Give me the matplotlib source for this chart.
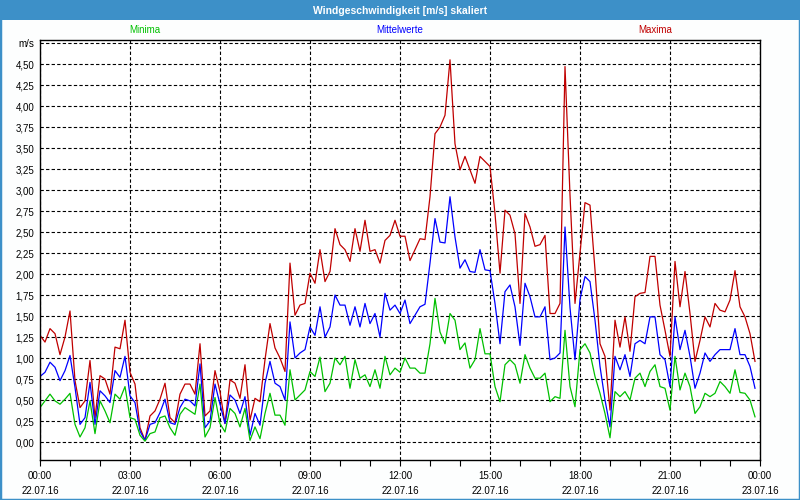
import numpy as np
import pandas as pd
import matplotlib
matplotlib.use("Agg")
import matplotlib.pyplot as plt
import matplotlib.dates as mdates
from matplotlib.patches import Rectangle
from matplotlib.ticker import FixedLocator, FixedFormatter

plt.rcParams['font.family'] = ['Liberation Sans', 'DejaVu Sans']

# 10-minute values, 22.07.16 00:00 .. 23:50
start = "2016-07-22 00:00"
end = "2016-07-23 00:00"

maxima = [1.27, 1.19, 1.35, 1.29, 1.04, 1.25, 1.56, 0.73, 0.41, 0.49,
          0.97, 0.29, 0.79, 0.75, 0.57, 1.13, 1.11, 1.45, 0.83, 0.69,
          0.17, 0.02, 0.31, 0.37, 0.51, 0.70, 0.29, 0.23, 0.57, 0.69,
          0.69, 0.57, 1.17, 0.31, 0.37, 0.85, 0.60, 0.22, 0.74, 0.70,
          0.52, 0.92, 0.26, 0.52, 0.48, 0.98, 1.41, 1.12, 1.00, 0.84,
          2.13, 1.51, 1.63, 1.65, 2.01, 1.89, 2.29, 1.91, 2.03, 2.54,
          2.35, 2.29, 2.15, 2.54, 2.27, 2.64, 2.27, 2.29, 2.13, 2.40,
          2.46, 2.64, 2.45, 2.45, 2.16, 2.29, 2.42, 2.41, 2.92, 3.67,
          3.75, 3.89, 4.55, 3.55, 3.24, 3.40, 3.24, 3.08, 3.40, 3.34,
          3.28, 2.72, 2.01, 2.76, 2.70, 2.48, 1.65, 2.72, 2.56, 2.33,
          2.35, 2.46, 1.53, 1.53, 1.65, 4.47, 2.94, 1.65, 2.25, 2.85,
          2.82, 2.05, 1.17, 1.02, 0.38, 1.45, 1.13, 1.49, 1.08, 1.73,
          1.77, 1.78, 2.21, 2.21, 1.63, 1.33, 1.02, 2.15, 1.61, 2.03,
          1.53, 0.96, 1.21, 1.49, 1.37, 1.65, 1.57, 1.55, 1.69, 2.04,
          1.61, 1.49, 1.29, 0.96]

mittelwerte = [0.78, 0.83, 0.95, 0.89, 0.73, 0.85, 1.03, 0.65, 0.21, 0.29,
               0.71, 0.21, 0.61, 0.55, 0.47, 0.85, 0.77, 1.02, 0.55, 0.47,
               0.13, 0.02, 0.21, 0.23, 0.35, 0.51, 0.23, 0.21, 0.41, 0.51,
               0.49, 0.43, 0.93, 0.17, 0.25, 0.69, 0.45, 0.22, 0.56, 0.50,
               0.34, 0.54, 0.08, 0.34, 0.20, 0.70, 0.96, 0.70, 0.66, 0.50,
               1.43, 1.00, 1.06, 1.10, 1.37, 1.27, 1.61, 1.25, 1.37, 1.75,
               1.63, 1.63, 1.39, 1.61, 1.37, 1.65, 1.41, 1.53, 1.25, 1.77,
               1.57, 1.63, 1.53, 1.69, 1.41, 1.51, 1.61, 1.64, 2.13, 2.66,
               2.38, 2.37, 2.92, 2.44, 2.07, 2.17, 2.03, 2.02, 2.29, 2.05,
               2.04, 1.65, 1.17, 1.79, 1.87, 1.61, 1.15, 1.89, 1.73, 1.49,
               1.49, 1.61, 0.98, 1.00, 1.06, 2.56, 1.60, 0.98, 1.70, 1.97,
               1.91, 1.45, 0.90, 0.50, 0.18, 1.02, 0.86, 1.04, 0.78, 1.17,
               1.21, 1.17, 1.49, 1.49, 1.04, 0.98, 0.66, 1.49, 1.10, 1.33,
               1.02, 0.64, 0.82, 1.06, 0.96, 1.04, 1.10, 1.10, 1.10, 1.35,
               1.04, 1.04, 0.90, 0.64]

minima = [0.41, 0.49, 0.57, 0.49, 0.45, 0.51, 0.58, 0.21, 0.06, 0.17,
          0.49, 0.10, 0.49, 0.37, 0.23, 0.57, 0.51, 0.66, 0.29, 0.27,
          0.08, 0.01, 0.10, 0.12, 0.29, 0.31, 0.17, 0.08, 0.33, 0.41,
          0.37, 0.33, 0.69, 0.06, 0.17, 0.53, 0.22, 0.12, 0.40, 0.34,
          0.18, 0.40, 0.02, 0.18, 0.04, 0.34, 0.58, 0.32, 0.32, 0.20,
          0.86, 0.50, 0.56, 0.62, 0.84, 0.78, 1.01, 0.60, 0.70, 1.00,
          0.92, 1.02, 0.64, 0.98, 0.76, 0.80, 0.66, 0.86, 0.64, 1.02,
          0.80, 0.88, 0.83, 1.00, 0.88, 0.88, 0.82, 0.82, 1.17, 1.71,
          1.31, 1.17, 1.53, 1.45, 1.10, 1.18, 0.88, 0.98, 1.35, 1.05,
          1.05, 0.66, 0.48, 0.92, 0.98, 0.92, 0.70, 1.04, 0.88, 0.76,
          0.76, 0.82, 0.48, 0.54, 0.52, 1.33, 0.66, 0.42, 1.10, 1.17,
          1.06, 0.78, 0.58, 0.34, 0.05, 0.60, 0.54, 0.60, 0.50, 0.76,
          0.82, 0.66, 0.84, 0.92, 0.66, 0.64, 0.38, 1.02, 0.62, 0.82,
          0.66, 0.34, 0.42, 0.58, 0.54, 0.58, 0.72, 0.66, 0.58, 0.86,
          0.59, 0.58, 0.50, 0.30]

times = pd.date_range(start, periods=len(maxima), freq="10min")

y_ticks = [0.00, 0.25, 0.50, 0.75, 1.00, 1.25, 1.50, 1.75, 2.00, 2.25,
           2.50, 2.75, 3.00, 3.25, 3.50, 3.75, 4.00, 4.25, 4.50, 4.75]
y_labels = [f"{v:.2f}".replace(".", ",") for v in y_ticks[:-1]] + ["m/s"]

RED = "#c00000"
BLUE = "#0000ff"
GREEN = "#00c000"
FRAME = "#3d90c8"

fig = plt.figure(figsize=(8, 5), dpi=100, facecolor="#fdfefe")
ax = fig.add_axes([0.05, 0.08, 0.90, 0.84])
ax.set_facecolor("#ffffff")

ax.plot(times, maxima, color=RED, lw=0.9)
ax.plot(times, mittelwerte, color=BLUE, lw=0.9)
ax.plot(times, minima, color=GREEN, lw=0.9)

ax.set_xlim(pd.Timestamp(start), pd.Timestamp(end))
ax.set_ylim(-0.214, 4.786)

ax.xaxis.set_major_locator(mdates.HourLocator(byhour=range(0, 24, 3)))
ax.xaxis.set_minor_locator(mdates.HourLocator())
ax.xaxis.set_major_formatter(mdates.DateFormatter("%H:%M\n%d.%m.%y"))
ax.yaxis.set_major_locator(FixedLocator(y_ticks))
ax.yaxis.set_major_formatter(FixedFormatter(y_labels))

ax.tick_params(axis="x", which="both", direction="out", length=4,
               width=0.8, labelsize=7, pad=4)
ax.tick_params(axis="y", length=0, labelsize=7, pad=4)
for lbl in ax.get_xticklabels():
    lbl.set_linespacing(1.55)

ax.grid(True, which="major", color="black", lw=0.8, linestyle=(0, (3, 2)))
ax.set_axisbelow(True)
for s in ax.spines.values():
    s.set_color("black")
    s.set_linewidth(1)

# header band and outer frame
fig.patches.append(Rectangle((0, 0.96), 1, 0.04, transform=fig.transFigure,
                             facecolor=FRAME, edgecolor="none", zorder=0))
fig.patches.append(Rectangle((0, 0), 1, 1, transform=fig.transFigure,
                             fill=False, edgecolor=FRAME, lw=2.5, zorder=1))
fig.text(0.5, 0.979, "Windgeschwindigkeit [m/s] skaliert", color="white",
         fontsize=7.5, fontweight="bold", ha="center", va="center")

fig.text(0.181, 0.94, "Minima", color=GREEN, fontsize=7, ha="center", va="center")
fig.text(0.5, 0.94, "Mittelwerte", color=BLUE, fontsize=7, ha="center", va="center")
fig.text(0.819, 0.94, "Maxima", color=RED, fontsize=7, ha="center", va="center")

fig.savefig("out.png", dpi=100, facecolor=fig.get_facecolor())
